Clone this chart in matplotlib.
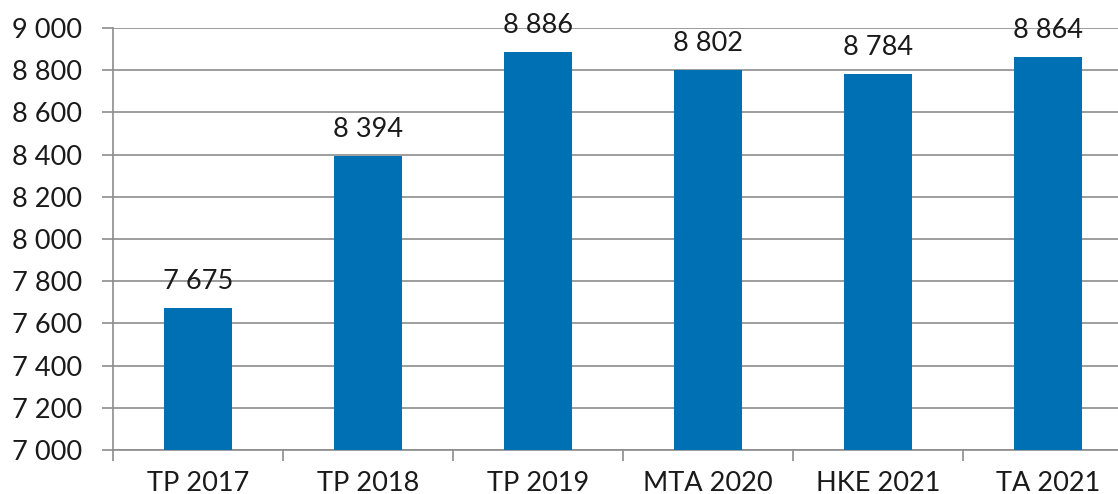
import matplotlib
matplotlib.use("Agg")
import matplotlib.pyplot as plt
from matplotlib.ticker import FuncFormatter, FixedLocator

categories = ["TP 2017", "TP 2018", "TP 2019", "MTA 2020", "HKE 2021", "TA 2021"]
values = [7675, 8394, 8886, 8802, 8784, 8864]
yticks = [7000, 7200, 7400, 7600, 7800, 8000, 8200, 8400, 8600, 8800, 9000]

def fmt(v):
    return f"{int(v):,}".replace(",", " ")

plt.rcParams['font.family'] = ['Lato', 'DejaVu Sans']
FS = 19.5

W, H = 1118, 494
fig = plt.figure(figsize=(W/100, H/100), dpi=100)
left, right, top, bottom = 113, 1133, 28, 450
ax = fig.add_axes([left/W, 1-bottom/H, (right-left)/W, (bottom-top)/H])

x = list(range(len(categories)))
ax.bar(x, values, width=0.4, color="#0070B5", zorder=3)
ax.set_ylim(7000, 9000)
ax.set_xlim(-0.5, len(categories)-0.5)
ax.set_yticks(yticks)
ax.yaxis.set_major_formatter(FuncFormatter(lambda v, p: fmt(v)))
ax.yaxis.grid(True, color="#8c8c8c", linewidth=1.2, zorder=0)
ax.set_axisbelow(True)

ax.set_xticks(x)
ax.set_xticklabels(categories)
ax.xaxis.set_minor_locator(FixedLocator([i-0.5 for i in range(len(categories)+1)]))
ax.tick_params(axis='x', which='major', length=0, pad=15, labelsize=FS, colors="#1a1a1a")
ax.tick_params(axis='x', which='minor', length=8, width=1.2, color="#8c8c8c")
ax.tick_params(axis='y', length=8, width=1.2, color="#8c8c8c", pad=14, labelsize=FS, labelcolor="#1a1a1a")

for s in ["top", "right"]:
    ax.spines[s].set_visible(False)
for s in ["left", "bottom"]:
    ax.spines[s].set_color("#8c8c8c")
    ax.spines[s].set_linewidth(1.2)

for xi, v in zip(x, values):
    ax.annotate(fmt(v), (xi, v), xytext=(0, 13.5), textcoords="offset points",
                ha="center", va="baseline", fontsize=FS, color="#1a1a1a", annotation_clip=False)

fig.savefig("out.png", dpi=100)
